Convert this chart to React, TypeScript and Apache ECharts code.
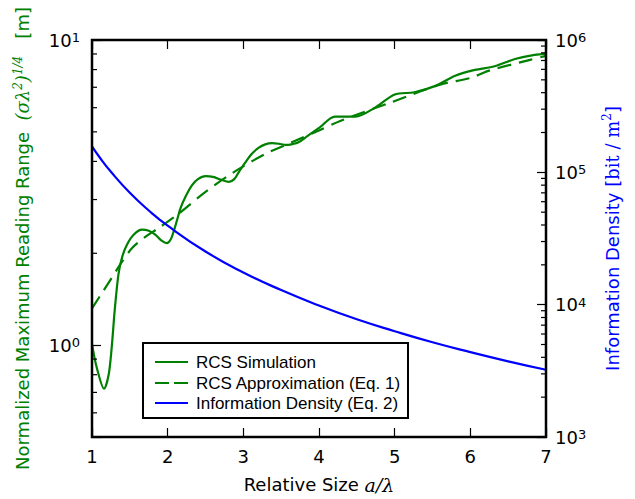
import React, { useEffect, useRef } from 'react';
import * as echarts from 'echarts';

// ---- data ----
const simX = [1.0, 1.06, 1.16, 1.22, 1.26, 1.3, 1.35, 1.4, 1.46, 1.55, 1.66, 1.75, 1.84, 1.92, 1.99, 2.04, 2.08, 2.13, 2.17, 2.24, 2.32, 2.4, 2.5, 2.6, 2.7, 2.81, 2.88, 2.94, 3.02, 3.11, 3.2, 3.29, 3.38, 3.47, 3.56, 3.65, 3.73, 3.85, 4.01, 4.21, 4.48, 4.74, 5.0, 5.26, 5.53, 5.8, 6.06, 6.32, 6.59, 6.85, 7.0];
const simY = [1.01, 0.85, 0.72, 0.8, 0.98, 1.3, 1.71, 1.95, 2.13, 2.3, 2.39, 2.37, 2.3, 2.2, 2.16, 2.22, 2.36, 2.6, 2.81, 3.08, 3.34, 3.5, 3.58, 3.56, 3.49, 3.43, 3.5, 3.69, 3.95, 4.23, 4.43, 4.55, 4.59, 4.57, 4.53, 4.56, 4.62, 4.85, 5.17, 5.61, 5.61, 6.0, 6.63, 6.74, 7.06, 7.64, 7.98, 8.2, 8.66, 8.94, 9.0];

const approxX = [1.0, 1.13, 1.26, 1.4, 1.53, 1.7, 1.88, 2.15, 2.5, 2.89, 3.29, 3.64, 4.0, 4.28, 4.94, 5.6, 6.0, 6.26, 6.79, 7.0];
const approxY = [1.32, 1.48, 1.66, 1.88, 2.08, 2.26, 2.42, 2.7, 3.18, 3.71, 4.23, 4.62, 5.05, 5.43, 6.23, 7.14, 7.51, 7.95, 8.61, 8.87];

const densX = [1.0, 1.1, 1.25, 1.5, 1.75, 2.0, 2.5, 3.0, 3.5, 4.0, 4.5, 5.0, 5.5, 6.0, 6.5, 7.0];
const densY = [157000, 130000, 101000, 70000, 51500, 39500, 25200, 17500, 12900, 9850, 7750, 6300, 5200, 4380, 3730, 3220];

const leftMinor = [0.6, 0.7, 0.8, 0.9, 2, 3, 4, 5, 6, 7, 8, 9];
const rightMinor = [2000, 3000, 4000, 5000, 6000, 7000, 8000, 9000, 20000, 30000, 40000, 50000, 60000, 70000, 80000, 90000, 200000, 300000, 400000, 500000, 600000, 700000, 800000, 900000];

const legendLabels = ['RCS Simulation', 'RCS Approximation (Eq. 1)', 'Information Density (Eq. 2)'];

const GREEN = '#008000';
const BLUE = '#0000ff';
const SANS = 'DejaVu Sans';
const TF = 18;

const powLabel = (v: number) => {
  const e = Math.log10(v);
  const r = Math.round(e);
  if (Math.abs(e - r) > 1e-6) return '';
  return '{b|10}{e|' + r + '}';
};

const tickRich = {
  b: { fontSize: 18, lineHeight: 18, fontFamily: SANS, color: '#000', verticalAlign: 'middle' },
  e: { fontSize: 13, lineHeight: 13, fontFamily: SANS, color: '#000', verticalAlign: 'top', padding: [0, 0, 17, 0] },
};

export default function App() {
  const ref = useRef<HTMLDivElement>(null);
  useEffect(() => {
    if (!ref.current) return;
    const chart = echarts.init(ref.current, null, { renderer: 'svg' });
    const option: any = {
      animation: false,
      backgroundColor: '#fff',
      grid: { left: 92, top: 40, width: 454, height: 400, show: true, borderColor: '#000', borderWidth: 2.5, backgroundColor: 'transparent', z: 10 },
      xAxis: [
        {
          type: 'value', min: 1, max: 7, interval: 1, position: 'bottom',
          axisLine: { show: false },
          axisTick: { inside: true, length: 9, lineStyle: { color: '#000', width: 1.2 } },
          axisLabel: { fontSize: 18, fontFamily: SANS, color: '#000', margin: 10 },
          splitLine: { show: false },
          name: '{n|Relative Size }{m|a/λ}',
          nameLocation: 'middle', nameGap: 38,
          nameTextStyle: {
            rich: {
              n: { fontSize: TF, fontFamily: SANS, color: '#000' },
              m: { fontSize: TF + 1, fontFamily: 'DejaVu Serif', fontStyle: 'italic', color: '#000' },
            },
          },
        },
        {
          type: 'value', min: 1, max: 7, interval: 1, position: 'top',
          axisLine: { show: false },
          axisTick: { inside: true, length: 9, lineStyle: { color: '#000', width: 1.2 } },
          axisLabel: { show: false },
          splitLine: { show: false },
        },
      ],
      yAxis: [
        {
          type: 'log', logBase: 10, min: 0.5, max: 10, position: 'left',
          axisLine: { show: false },
          axisTick: { inside: true, length: 9, lineStyle: { color: '#000', width: 1.2 } },
          axisLabel: { formatter: powLabel, rich: tickRich, margin: 12 },
          splitLine: { show: false },
          name: '{t|Normalized Maximum Reading Range  }{m|(σλ}{s|2}{m|)}{s|1/4}{t|   [m]}',
          nameLocation: 'middle', nameRotate: 90, nameGap: 56,
          nameTextStyle: {
            rich: {
              t: { fontSize: TF, fontFamily: SANS, color: GREEN, verticalAlign: 'middle', lineHeight: 22 },
              m: { fontSize: TF, fontFamily: 'DejaVu Serif', fontStyle: 'italic', color: GREEN, verticalAlign: 'middle', lineHeight: 22 },
              s: { fontSize: 12, fontFamily: 'DejaVu Serif', fontStyle: 'italic', color: GREEN, verticalAlign: 'top', lineHeight: 12, padding: [0, 0, 14, 0] },
            },
          },
        },
        {
          type: 'log', logBase: 10, min: 1000, max: 1000000, position: 'right',
          axisLine: { show: false },
          axisTick: { inside: true, length: 9, lineStyle: { color: '#000', width: 1.2 } },
          axisLabel: { formatter: powLabel, rich: tickRich, margin: 9 },
          splitLine: { show: false },
          name: '{t|Information Density [}{r|bit / m}{s|2}{t|]}',
          nameLocation: 'middle', nameRotate: 90, nameGap: 55,
          nameTextStyle: {
            rich: {
              t: { fontSize: TF, fontFamily: SANS, color: BLUE, verticalAlign: 'middle', lineHeight: 22 },
              r: { fontSize: TF, fontFamily: 'DejaVu Serif', color: BLUE, verticalAlign: 'middle', lineHeight: 22 },
              s: { fontSize: 12, fontFamily: 'DejaVu Serif', color: BLUE, verticalAlign: 'top', lineHeight: 12, padding: [0, 0, 14, 0] },
            },
          },
        },
      ],
      series: [
        {
          name: legendLabels[0], type: 'line', xAxisIndex: 0, yAxisIndex: 0,
          data: simX.map((x, i) => [x, simY[i]]),
          symbol: 'none', smooth: 0.3,
          lineStyle: { color: GREEN, width: 2.2 }, itemStyle: { color: GREEN },
        },
        {
          name: legendLabels[1], type: 'line', xAxisIndex: 0, yAxisIndex: 0,
          data: approxX.map((x, i) => [x, approxY[i]]),
          symbol: 'none', smooth: 0.3,
          lineStyle: { color: GREEN, width: 2.2, type: [14, 8] }, itemStyle: { color: GREEN },
        },
        {
          name: legendLabels[2], type: 'line', xAxisIndex: 0, yAxisIndex: 1,
          data: densX.map((x, i) => [x, densY[i]]),
          symbol: 'none', smooth: true,
          lineStyle: { color: BLUE, width: 2.2 }, itemStyle: { color: BLUE },
        },
      ],
    };
    chart.setOption(option);

    const xl = chart.convertToPixel({ xAxisIndex: 0 }, 1) as number;
    const xr = chart.convertToPixel({ xAxisIndex: 0 }, 7) as number;
    const g: any[] = [];
    leftMinor.forEach((v) => {
      const y = chart.convertToPixel({ yAxisIndex: 0 }, v) as number;
      g.push({ type: 'line', shape: { x1: xl, y1: y, x2: xl + 5, y2: y }, style: { stroke: '#000', lineWidth: 1.2 }, z: 20 });
    });
    rightMinor.forEach((v) => {
      const y = chart.convertToPixel({ yAxisIndex: 1 }, v) as number;
      g.push({ type: 'line', shape: { x1: xr - 5, y1: y, x2: xr, y2: y }, style: { stroke: '#000', lineWidth: 1.2 }, z: 20 });
    });
    // legend
    const lx = 143, ly = 343, lw = 265, lh = 75;
    g.push({ type: 'rect', shape: { x: lx, y: ly, width: lw, height: lh }, style: { fill: '#fff', stroke: '#000', lineWidth: 2 }, z: 30 });
    const rows = [362, 383, 403];
    const dashes: any[] = [null, [14, 5], null];
    const colors = [GREEN, GREEN, BLUE];
    rows.forEach((y, i) => {
      g.push({ type: 'line', shape: { x1: 155, y1: y, x2: 188, y2: y }, style: { stroke: colors[i], lineWidth: 2.2, lineDash: dashes[i] }, z: 31 });
      g.push({ type: 'text', x: 196, y, style: { text: legendLabels[i], fill: '#000', font: '17px "Liberation Sans"', verticalAlign: 'middle', align: 'left' }, z: 31 });
    });
    chart.setOption({ graphic: g });

    return () => chart.dispose();
  }, []);
  return <div ref={ref} style={{ position: 'fixed', left: 0, top: 0, width: 635, height: 499 }} />;
}
